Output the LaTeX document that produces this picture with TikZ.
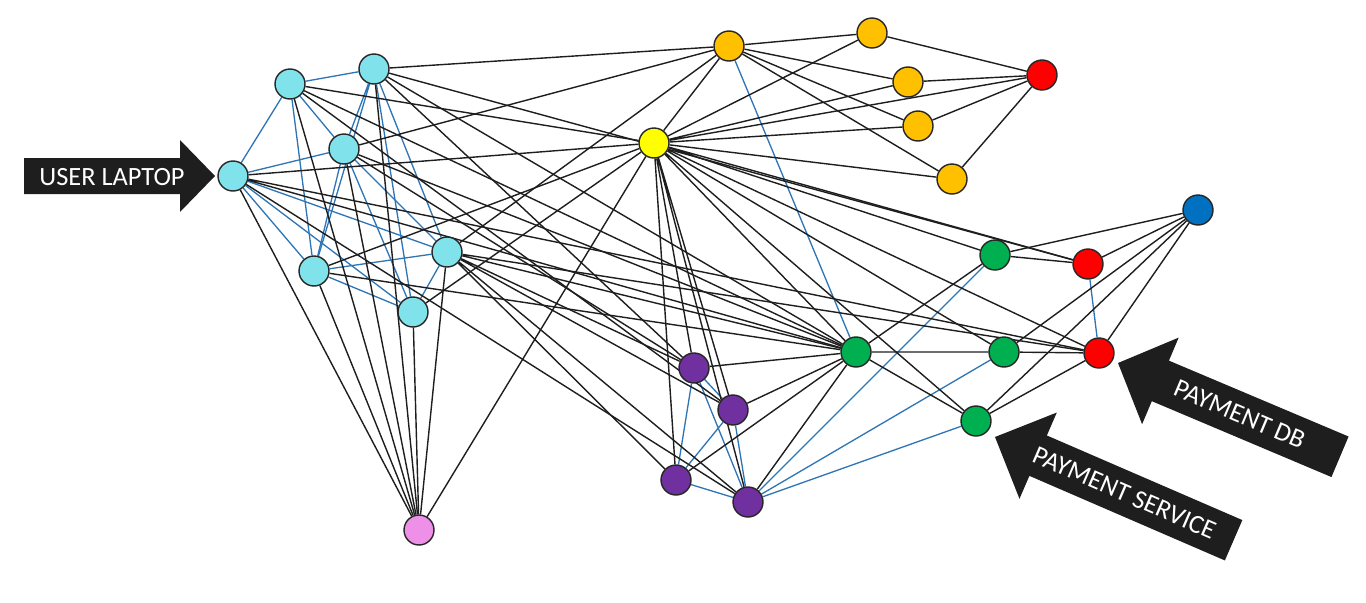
\documentclass[tikz,border=0pt]{standalone}
\usepackage{fontspec}
\setmainfont{Carlito}
\usetikzlibrary{positioning}
\pgfdeclarelayer{wires}
\pgfsetlayers{wires,main}

\definecolor{lapcyan}{RGB}{128,227,236}
\definecolor{hubyellow}{RGB}{255,255,0}
\definecolor{svcorange}{RGB}{255,192,0}
\definecolor{dbred}{RGB}{255,0,0}
\definecolor{extblue}{RGB}{0,112,192}
\definecolor{paygreen}{RGB}{0,176,80}
\definecolor{wkpurple}{RGB}{112,48,160}
\definecolor{sinkpink}{RGB}{238,144,232}
\definecolor{wiregrey}{RGB}{30,30,30}
\definecolor{wireblue}{RGB}{46,117,182}
\definecolor{bannergrey}{RGB}{30,30,30}

\begin{document}
\begin{tikzpicture}
    [x=0.02cm, y=-0.02cm,
     every node/.style={draw=black!85, circle, minimum size=0.6cm, inner sep=0pt, line width=0.8pt},
     wire/.style={draw=wiregrey, line width=0.8pt},
     link/.style={draw=wireblue, line width=0.75pt},
     banner/.style={fill=bannergrey},
     bannertext/.style={draw=none, rectangle, minimum size=0pt, text=white, font=\fontsize{15}{15}\selectfont}]
    \useasboundingbox (0,0) rectangle (1366,602);

    % laptop cluster
    \node[fill=lapcyan] (l1) at (290,84) {};
    \node[fill=lapcyan] (l2) at (374,69) {};
    \node[fill=lapcyan] (l3) at (233,176) {};
    \node[fill=lapcyan] (l4) at (344,149) {};
    \node[fill=lapcyan] (l5) at (314,271) {};
    \node[fill=lapcyan] (l6) at (447,252) {};
    \node[fill=lapcyan] (l7) at (413,312) {};
    \node[fill=sinkpink] (pk) at (419,530) {};
    \node[fill=hubyellow] (hub) at (654,143) {};

    % top services
    \node[fill=svcorange] (o1) at (729,46) {};
    \node[fill=svcorange] (o2) at (872,33) {};
    \node[fill=svcorange] (o3) at (908,82) {};
    \node[fill=svcorange] (o4) at (918,126) {};
    \node[fill=svcorange] (o5) at (952,179) {};
    \node[fill=dbred] (r1) at (1042,75) {};

    % payment side
    \node[fill=extblue] (bl) at (1198,210) {};
    \node[fill=dbred] (r2) at (1088,264) {};
    \node[fill=dbred] (r3) at (1099,353) {};
    \node[fill=paygreen] (g1) at (995,255) {};
    \node[fill=paygreen] (g2) at (856,352) {};
    \node[fill=paygreen] (g3) at (1004,352) {};
    \node[fill=paygreen] (g4) at (976,421) {};

    % workers
    \node[fill=wkpurple] (w1) at (694,368) {};
    \node[fill=wkpurple] (w2) at (733,410) {};
    \node[fill=wkpurple] (w3) at (676,480) {};
    \node[fill=wkpurple] (w4) at (748,502) {};

    \begin{pgfonlayer}{wires}
    \draw[link] (l1) -- (l2) (l1) -- (l3) (l1) -- (l4) (l1) -- (l5);
    \draw[link] (l2) -- (l4) (l2) -- (l5) (l2) -- (l6) (l2) -- (l7);
    \draw[link] (l3) -- (l4) (l3) -- (l5) (l3) -- (l6) (l3) -- (l7);
    \draw[link] (l4) -- (l5) (l4) -- (l6) (l4) -- (l7);
    \draw[link] (l5) -- (l6) (l5) -- (l7) (l6) -- (l7);
    \draw[link] (o1) -- (g2);
    \draw[link] (r2) -- (r3);
    \draw[link] (w1) -- (w2) (w1) -- (w3) (w1) -- (w4) (w2) -- (w3) (w2) -- (w4) (w3) -- (w4);
    \draw[link] (w4) -- (g1) (w4) -- (g3) (w4) -- (g4);

    \draw[wire] (l1) -- (hub) (l1) -- (g2) (l1) -- (pk) (l1) -- (w2);
    \draw[wire] (l2) -- (o1) (l2) -- (g2) (l2) -- (r2) (l2) -- (pk) (l2) -- (w1);
    \draw[wire] (l3) -- (hub) (l3) -- (g2) (l3) -- (r3) (l3) -- (pk) (l3) -- (w4);
    \draw[wire] (l4) -- (o1) (l4) -- (g2) (l4) -- (w1) (l4) -- (pk);
    \draw[wire] (l5) -- (hub) (l5) -- (g2) (l5) -- (pk);
    \draw[wire] (l6) -- (o1) (l6) -- (g2) (l6) -- (r3) (l6) -- (pk);
    \draw[wire] (l6) -- (w1) (l6) -- (w2) (l6) -- (w3) (l6) -- (w4);
    \draw[wire] (l7) -- (hub) (l7) -- (pk);
    \draw[wire] (hub) -- (o1) (hub) -- (o2) (hub) -- (o3) (hub) -- (o4) (hub) -- (o5) (hub) -- (r1);
    \draw[wire] (hub) -- (r2) (hub) -- (g1) (hub) -- (r3) (hub) -- (g3) (hub) -- (g4) (hub) -- (g2);
    \draw[wire] (hub) -- (w1) (hub) -- (w2) (hub) -- (w3) (hub) -- (w4) (hub) -- (pk);
    \draw[wire] (o1) -- (o2) (o1) -- (o3) (o1) -- (o4) (o1) -- (o5);
    \draw[wire] (r1) -- (o2) (r1) -- (o3) (r1) -- (o4) (r1) -- (o5);
    \draw[wire] (g1) -- (r2) (g1) -- (bl) (g1) -- (g2);
    \draw[wire] (bl) -- (r2) (bl) -- (g3) (bl) -- (g4) (bl) -- (r3);
    \draw[wire] (g2) -- (g3) (g2) -- (g4) (g3) -- (r3) (g4) -- (r3);
    \draw[wire] (g2) -- (w1) (g2) -- (w2) (g2) -- (w3) (g2) -- (w4);
    \end{pgfonlayer}

    % pointers
    \fill[banner] (24,158) -- (180,158) -- (180,140) -- (215,176) -- (180,212) -- (180,194) -- (24,194) -- cycle;
    \node[bannertext] (laptop) at (112,177) {USER LAPTOP};

    \begin{scope}[shift={(1118,363)}, rotate=-22.9]
      \fill[banner] (0,0) -- (46,47) -- (46,22) -- (241,22) -- (241,-22) -- (46,-22) -- (46,-47) -- cycle;
      \node[bannertext, transform shape] (paydb) at (132,0) {PAYMENT DB};
    \end{scope}
    \begin{scope}[shift={(995,437)}, rotate=-23.4]
      \fill[banner] (0,0) -- (47,47) -- (47,22) -- (260,22) -- (260,-22) -- (47,-22) -- (47,-47) -- cycle;
      \node[bannertext, transform shape] (paysvc) at (141,0) {PAYMENT SERVICE};
    \end{scope}

  \end{tikzpicture}
\end{document}
